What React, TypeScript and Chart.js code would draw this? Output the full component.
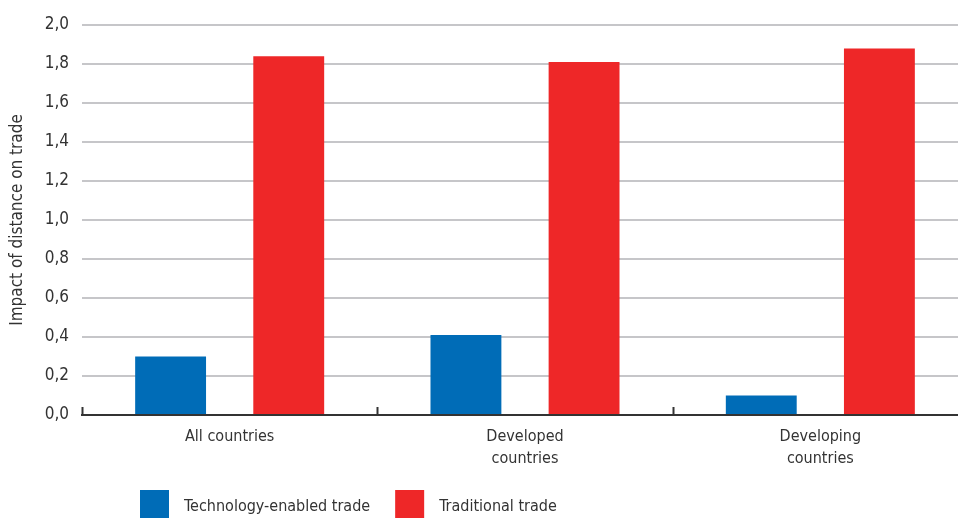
import React, { useEffect, useRef } from 'react';
import { Chart, registerables } from 'chart.js';

Chart.register(...registerables);

const categories: string[][] = [['All countries'], ['Developed', 'countries'], ['Developing', 'countries']];
const seriesNames: string[] = ['Technology-enabled trade', 'Traditional trade'];
const techEnabledTrade: number[] = [0.30, 0.41, 0.10];
const traditionalTrade: number[] = [1.84, 1.81, 1.88];
const seriesColors: string[] = ['#006CB7', '#EE2728'];
const yAxisTitle = 'Impact of distance on trade';
const yMin = 0;
const yMax = 2;
const yStep = 0.2;

const FONT = "'DejaVu Sans Condensed', 'Liberation Sans Narrow', sans-serif";
const TEXT = '#333333';

const extrasPlugin = {
  id: 'extras',
  afterDraw(chart: any) {
    const { ctx, chartArea } = chart;
    const x = chart.scales.x;
    ctx.save();
    // category boundary ticks pointing up
    ctx.strokeStyle = '#333333';
    ctx.lineWidth = 2;
    for (let i = 0; i <= categories.length; i++) {
      const px = Math.round(x.getPixelForValue(i - 0.5)) + 0.5;
      ctx.beginPath();
      ctx.moveTo(px, chartArea.bottom);
      ctx.lineTo(px, chartArea.bottom - 8);
      ctx.stroke();
    }
    // legend
    ctx.font = `16px ${FONT}`;
    ctx.textBaseline = 'middle';
    ctx.textAlign = 'left';
    let lx = 140;
    const boxTop = chartArea.bottom + 75;
    chart.data.datasets.forEach((ds: any) => {
      ctx.fillStyle = ds.backgroundColor;
      ctx.fillRect(lx, boxTop, 29, 28);
      ctx.fillStyle = TEXT;
      ctx.fillText(ds.label, lx + 44, boxTop + 17);
      lx += 44 + ctx.measureText(ds.label).width + 25;
    });
    ctx.restore();
  },
};

export default function App() {
  const ref = useRef<HTMLCanvasElement>(null);

  useEffect(() => {
    if (!ref.current) return;
    const chart = new Chart(ref.current, {
      type: 'bar',
      data: {
        labels: categories,
        datasets: [
          {
            label: seriesNames[0],
            data: techEnabledTrade,
            backgroundColor: seriesColors[0],
            categoryPercentage: 0.8,
            barPercentage: 0.6,
          },
          {
            label: seriesNames[1],
            data: traditionalTrade,
            backgroundColor: seriesColors[1],
            categoryPercentage: 0.8,
            barPercentage: 0.6,
          },
        ],
      },
      options: {
        responsive: false,
        animation: false,
        devicePixelRatio: 1,
        layout: { padding: { top: 25, left: 0, right: 0, bottom: 0 } },
        plugins: {
          legend: { display: false },
          tooltip: { enabled: false },
          title: { display: false },
        },
        scales: {
          x: {
            grid: { display: false, drawTicks: false },
            border: { display: true, color: '#333333', width: 2 },
            ticks: {
              color: TEXT,
              font: { family: FONT, size: 16, lineHeight: 1.375 },
              padding: 11,
              maxRotation: 0,
              autoSkip: false,
            },
            afterFit: (scale: any) => {
              scale.height = 103;
            },
          },
          y: {
            min: yMin,
            max: yMax,
            grid: { color: '#C6C6C9', lineWidth: 2, drawTicks: false },
            border: { display: false },
            ticks: {
              stepSize: yStep,
              color: TEXT,
              font: { family: FONT, size: 17 },
              padding: 13,
              callback: (v: any) => Number(v).toFixed(1).replace('.', ','),
            },
            title: {
              display: true,
              text: yAxisTitle,
              color: TEXT,
              font: { family: FONT, size: 17 },
              padding: { top: 7, bottom: 0 },
            },
            afterFit: (scale: any) => {
              scale.width = 82;
            },
          },
        },
      },
      plugins: [extrasPlugin],
    });
    return () => chart.destroy();
  }, []);

  return (
    <div style={{ position: 'absolute', left: 0, top: 0, width: 958, height: 518, overflow: 'hidden', background: '#fff' }}>
      <canvas ref={ref} width={968} height={518} style={{ display: 'block', width: 968, height: 518 }} />
    </div>
  );
}
